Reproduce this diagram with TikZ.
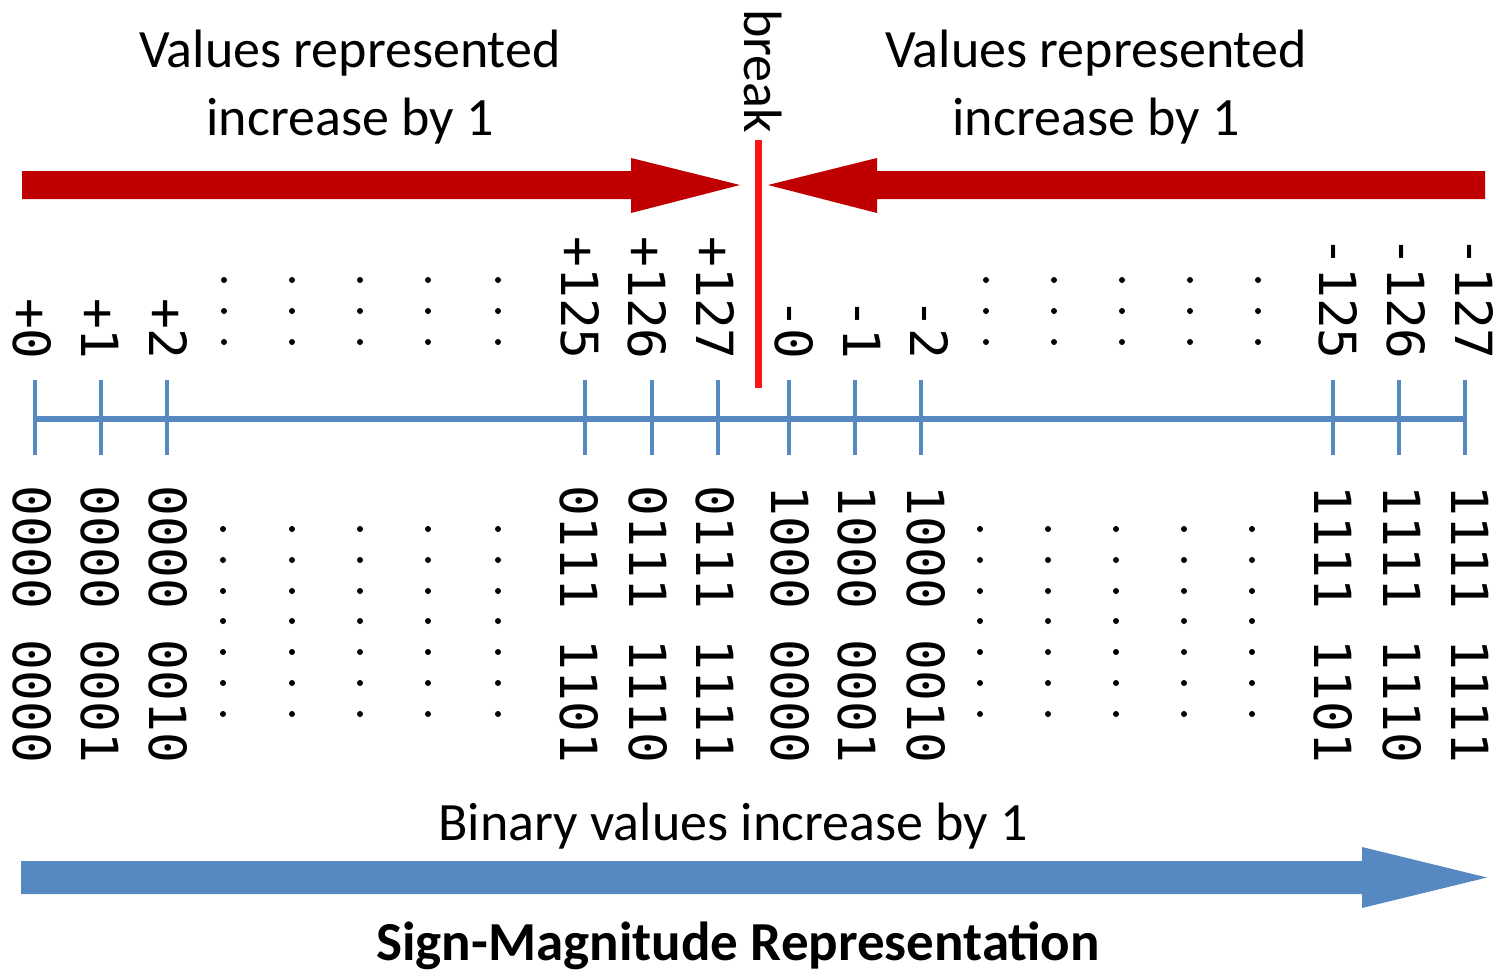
\documentclass[tikz,border=0pt]{standalone}
\usepackage{fontspec}
\setmainfont{Carlito}
\newfontfamily\monofam{DejaVu Sans Mono}
\definecolor{arrowred}{RGB}{192,0,0}
\definecolor{breakred}{RGB}{250,20,20}
\definecolor{axisblue}{RGB}{86,137,193}
\tikzset{
  num/.style={font=\fontsize{51.2}{60}\selectfont\monofam, rotate=-90, inner sep=0pt},
  heading/.style={font=\fontsize{54}{64}\selectfont, inner sep=0pt, anchor=base},
  tickmark/.style={draw=axisblue, line width=3.2pt},
  dotmark/.style={fill=black},
}
\begin{document}
\begin{tikzpicture}[x=1pt,y=-1pt]
\useasboundingbox (0,0) rectangle (1510,975);

% headings
\node[heading] (tl1) at (350,67) {Values represented};
\node[heading] (tl2) at (350,135) {increase by 1};
\node[heading] (tr1) at (1096,67) {Values represented};
\node[heading] (tr2) at (1096,135) {increase by 1};
\node[font=\fontsize{54}{64}\selectfont, inner sep=0pt, rotate=-90, anchor=base west] (brk) at (744,9) {break};

% red arrows
\fill[arrowred] (22,171) -- (631,171) -- (631,158) -- (740,185) -- (631,213) -- (631,199) -- (22,199) -- cycle;
\fill[arrowred] (1485,171) -- (877,171) -- (877,158) -- (768,185) -- (877,213) -- (877,199) -- (1485,199) -- cycle;

% break line
\coordinate (b1) at (758,140);
\coordinate (b2) at (758,388);
\draw[breakred, line width=7pt] (b1) -- (b2);

% axis
\coordinate (a0) at (35,419);
\coordinate (a1) at (1465,419);
\draw[axisblue, line width=6pt] (a0) -- (a1);
\foreach \t in {35,101,167,585,652,718,789,855,921,1333,1399,1465}
  \draw[tickmark] (\t,380) -- (\t,455);

% top labels
\node[num, anchor=east] (p0) at (32,360) {+0};
\node[num, anchor=east] (p1) at (100,360) {+1};
\node[num, anchor=east] (p2) at (168,360) {+2};
\node[num, anchor=east] (p125) at (580,360) {+125};
\node[num, anchor=east] (p126) at (647,360) {+126};
\node[num, anchor=east] (p127) at (715,360) {+127};
\node[num, anchor=east] (m0) at (794,360) {-0};
\node[num, anchor=east] (m1) at (862,360) {-1};
\node[num, anchor=east] (m2) at (929,360) {-2};
\node[num, anchor=east] (m125) at (1338,360) {-125};
\node[num, anchor=east] (m126) at (1406,360) {-126};
\node[num, anchor=east] (m127) at (1474,360) {-127};

% top dots
\foreach \x in {224,292,360,428,498,986,1054,1122,1190,1258}
  \foreach \y in {280,311,342}
    \fill[dotmark] (\x,\y) circle (3);

% bottom labels
\node[num, anchor=west] (b0) at (32,485.5) {0000 0000};
\node[num, anchor=west] (bb1) at (100,485.5) {0000 0001};
\node[num, anchor=west] (bb2) at (168,485.5) {0000 0010};
\node[num, anchor=west] (b125) at (579,485.5) {0111 1101};
\node[num, anchor=west] (b126) at (648,485.5) {0111 1110};
\node[num, anchor=west] (b127) at (715,485.5) {0111 1111};
\node[num, anchor=west] (n0) at (790,485.5) {1000 0000};
\node[num, anchor=west] (n1) at (857,485.5) {1000 0001};
\node[num, anchor=west] (n2) at (926,485.5) {1000 0010};
\node[num, anchor=west] (n125) at (1333,485.5) {1111 1101};
\node[num, anchor=west] (n126) at (1402,485.5) {1111 1110};
\node[num, anchor=west] (n127) at (1470,485.5) {1111 1111};

% bottom dots
\foreach \x in {223,292,360,428,498,980,1048,1116,1184,1252}
  \foreach \y in {529,560,591,621,652,683,714}
    \fill[dotmark] (\x,\y) circle (3);

% bottom arrow
\node[heading] (bin) at (733,840) {Binary values increase by 1};
\fill[axisblue] (21,861) -- (1362,861) -- (1362,847) -- (1487,877.5) -- (1362,908) -- (1362,894) -- (21,894) -- cycle;

% title
\node[heading, font=\fontsize{55}{64}\selectfont\bfseries] (title) at (738,960) {Sign-Magnitude Representation};
\end{tikzpicture}
\end{document}
